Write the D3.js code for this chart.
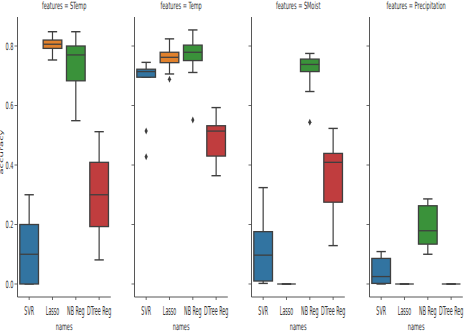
<!DOCTYPE html>
<html>
<head>
<meta charset="utf-8">
<script src="https://cdn.jsdelivr.net/npm/d3@7"></script>
<style>
  body { margin: 0; background: #fff; }
  svg { display: block; }
  text { font-family: "DejaVu Sans", sans-serif; fill: #333; }
</style>
</head>
<body>
<svg id="chart"></svg>
<script>
// facets and models
const features = ["STemp", "Temp", "SMoist", "Precipitation"];
const names = ["SVR", "Lasso", "NB Reg", "DTree Reg"];
const yTicks = [0.0, 0.2, 0.4, 0.6, 0.8];

// box stats per model: [whisker low, q1, median, q3, whisker high]
const statsSTemp = [
  [0.0, 0.0, 0.10, 0.20, 0.30],
  [0.753, 0.792, 0.806, 0.82, 0.848],
  [0.549, 0.683, 0.77, 0.80, 0.848],
  [0.081, 0.193, 0.30, 0.409, 0.512]
];
const statsTemp = [
  [0.695, 0.695, 0.714, 0.722, 0.745],
  [0.706, 0.744, 0.762, 0.779, 0.824],
  [0.711, 0.751, 0.779, 0.803, 0.854],
  [0.364, 0.43, 0.514, 0.532, 0.593]
];
const statsSMoist = [
  [0.002, 0.01, 0.097, 0.176, 0.324],
  [0.0, 0.0, 0.0, 0.0, 0.0],
  [0.647, 0.714, 0.738, 0.756, 0.775],
  [0.129, 0.275, 0.409, 0.439, 0.523]
];
const statsPrecip = [
  [0.0, 0.002, 0.025, 0.086, 0.109],
  [0.0, 0.0, 0.0, 0.0, 0.0],
  [0.10, 0.134, 0.179, 0.263, 0.286],
  [0.0, 0.0, 0.0, 0.0, 0.0]
];

// outliers per model
const fliersSTemp = [[], [], [], []];
const fliersTemp = [[0.514, 0.428], [0.688], [0.551], []];
const fliersSMoist = [[], [], [0.544], []];
const fliersPrecip = [[], [], [], []];

const allStats = [statsSTemp, statsTemp, statsSMoist, statsPrecip];
const allFliers = [fliersSTemp, fliersTemp, fliersSMoist, fliersPrecip];
const colors = ["#3274a1", "#e1812c", "#3a923a", "#c03d3e"];

const W = 465, H = 333;
const panelLeft = [17.5, 134.5, 251.5, 369.5];
const panelW = 93.3;
const plotTop = 17, plotBottom = 297;
const squash = 0.5; // text in the picture is narrowed

const svg = d3.select("#chart").attr("width", W).attr("height", H);

const y = d3.scaleLinear().domain([-0.0437, 0.8975]).range([plotBottom, plotTop]);

function squashText(sel, x, yy, k) {
  sel.attr("transform", `translate(${x},${yy}) scale(${k || squash},1)`);
}

features.forEach((f, fi) => {
  const x0 = panelLeft[fi];
  const x = d3.scaleBand().domain(names).range([x0, x0 + panelW]);
  const bw = x.bandwidth() * 0.8;
  const g = svg.append("g");

  // spines
  g.append("line").attr("x1", x0).attr("x2", x0).attr("y1", plotTop).attr("y2", plotBottom)
    .attr("stroke", "#444").attr("stroke-width", 0.9);
  g.append("line").attr("x1", x0).attr("x2", x0 + panelW).attr("y1", plotBottom).attr("y2", plotBottom)
    .attr("stroke", "#444").attr("stroke-width", 0.9);

  // y ticks
  yTicks.forEach(t => {
    g.append("line").attr("x1", x0 - 3).attr("x2", x0).attr("y1", y(t)).attr("y2", y(t))
      .attr("stroke", "#444").attr("stroke-width", 0.8);
    if (fi === 0) {
      g.append("text").text(t.toFixed(1)).attr("font-size", 10)
        .attr("text-anchor", "end").attr("dy", "0.35em")
        .call(squashText, x0 - 4, y(t));
    }
  });

  // x ticks + labels
  names.forEach(n => {
    const cx = x(n) + x.bandwidth() / 2;
    g.append("line").attr("x1", cx).attr("x2", cx).attr("y1", plotBottom).attr("y2", plotBottom + 3)
      .attr("stroke", "#444").attr("stroke-width", 0.8);
    g.append("text").text(n).attr("font-size", 12).attr("text-anchor", "middle")
      .call(squashText, cx, plotBottom + 18, 0.4);
  });

  g.append("text").text("names").attr("font-size", 10).attr("text-anchor", "middle")
    .call(squashText, x0 + panelW / 2, 330);

  g.append("text").text("features = " + f).attr("font-size", 10).attr("text-anchor", "middle")
    .call(squashText, x0 + panelW / 2, 9);

  // boxes
  const stats = allStats[fi];
  const fliers = allFliers[fi];
  names.forEach((n, i) => {
    const s = stats[i];
    const cx = x(n) + x.bandwidth() / 2;
    const bg = g.append("g");
    const ec = "#3f3f3f";
    // whiskers
    bg.append("line").attr("x1", cx).attr("x2", cx).attr("y1", y(s[3])).attr("y2", y(s[4]))
      .attr("stroke", ec).attr("stroke-width", 1.2);
    bg.append("line").attr("x1", cx).attr("x2", cx).attr("y1", y(s[0])).attr("y2", y(s[1]))
      .attr("stroke", ec).attr("stroke-width", 1.2);
    // caps
    [s[0], s[4]].forEach(v => {
      bg.append("line").attr("x1", cx - bw / 4).attr("x2", cx + bw / 4)
        .attr("y1", y(v)).attr("y2", y(v))
        .attr("stroke", ec).attr("stroke-width", 1.4);
    });
    // box
    bg.append("rect").attr("x", cx - bw / 2).attr("width", bw)
      .attr("y", y(s[3])).attr("height", Math.max(0, y(s[1]) - y(s[3])))
      .attr("fill", colors[i]).attr("stroke", ec).attr("stroke-width", 1.3);
    // median
    bg.append("line").attr("x1", cx - bw / 2).attr("x2", cx + bw / 2)
      .attr("y1", y(s[2])).attr("y2", y(s[2]))
      .attr("stroke", ec).attr("stroke-width", 1.3);
    // outliers
    bg.selectAll("path.flier").data(fliers[i]).enter().append("path")
      .attr("d", "M0,-3.5L1.6,0L0,3.5L-1.6,0Z")
      .attr("transform", d => `translate(${cx},${y(d)})`)
      .attr("fill", ec);
  });
});

// y label
svg.append("text").text("accuracy").attr("font-size", 10).attr("text-anchor", "middle")
  .attr("fill", "#666")
  .attr("transform", `translate(3,152) rotate(-90) scale(1,${squash})`);
</script>
</body>
</html>
